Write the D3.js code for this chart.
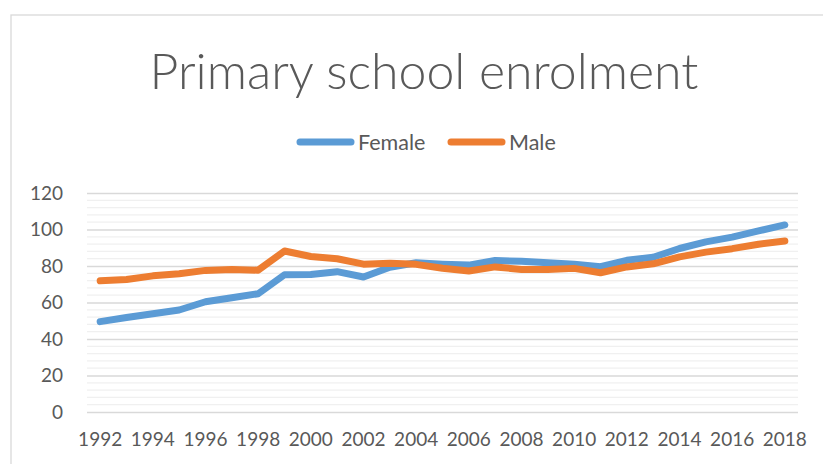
<!DOCTYPE html>
<html><head><meta charset="utf-8">
<script src="https://cdn.jsdelivr.net/npm/d3@7"></script>
<style>
html,body{margin:0;padding:0;background:#fff;}
svg{display:block;font-family:Lato,"Open Sans",sans-serif;}
</style></head>
<body>
<svg id="chart" width="823" height="464"></svg>
<script>
const years = [1992,1993,1994,1995,1996,1997,1998,1999,2000,2001,2002,2003,2004,2005,2006,2007,2008,2009,2010,2011,2012,2013,2014,2015,2016,2017,2018];
const female = [49.5,51.8,53.8,55.9,60.4,62.6,64.8,75.2,75.3,76.9,74.0,79.3,81.8,81.0,80.5,83.0,82.6,81.8,81.0,79.6,83.1,84.8,89.6,93.2,95.8,99.2,102.5];
const male = [71.9,72.6,74.6,75.8,77.6,78.1,77.7,88.2,85.2,84.0,81.0,81.5,80.9,78.8,77.3,79.5,78.1,78.1,78.7,76.3,79.5,81.2,85.0,87.6,89.5,91.9,93.7];
const yTicks = [0,20,40,60,80,100,120];
const xTickLabels = years.filter(y => y % 2 === 0);
const seriesNames = ["Female","Male"];
const colors = ["#5B9BD5","#ED7D31"];

const svg = d3.select("#chart");
const textColor = "#595959";

// chart border
svg.append("rect").attr("x",11).attr("y",15).attr("width",830).attr("height",470)
  .attr("fill","none").attr("stroke","#d9d9d9").attr("stroke-width",1.3);

const x = d3.scaleBand().domain(years).range([87,798]);
const y = d3.scaleLinear().domain([0,120]).range([412,193]);
const cx = d => x(d) + x.bandwidth()/2;

// minor gridlines
const minor = d3.range(0,121,4).filter(v => v % 20 !== 0);
svg.append("g").selectAll("line").data(minor).join("line")
  .attr("x1",87).attr("x2",798).attr("y1",d=>y(d)).attr("y2",d=>y(d))
  .attr("stroke","#f0f0f0").attr("stroke-width",1.2);

// major gridlines via axis
const yAxis = d3.axisLeft(y).tickValues(yTicks).tickSize(-(798-87)).tickPadding(24);
const gy = svg.append("g").attr("transform","translate(87,0)").call(yAxis);
gy.select(".domain").remove();
gy.selectAll(".tick line").attr("stroke","#d9d9d9").attr("stroke-width",1.3);
gy.selectAll(".tick text").attr("fill",textColor).style("font-size","19px").style("font-family","Lato");

// x axis labels
const xAxis = d3.axisBottom(x).tickValues(xTickLabels).tickSize(0).tickPadding(21);
const gx = svg.append("g").attr("transform","translate(0,412)").call(xAxis);
gx.select(".domain").remove();
gx.selectAll(".tick text").attr("fill",textColor).style("font-size","19px").style("font-family","Lato");

// lines
const line = d3.line().x((d,i)=>cx(years[i])).y(d=>y(d));
[female,male].forEach((s,k)=>{
  svg.append("path").datum(s).attr("d",line).attr("fill","none")
    .attr("stroke",colors[k]).attr("stroke-width",7)
    .attr("stroke-linecap","round").attr("stroke-linejoin","round");
});

// title
svg.append("text").attr("x",424).attr("y",89).attr("text-anchor","middle")
  .attr("fill",textColor).style("font-size","50px").style("font-weight","300")
  .text("Primary school enrolment");

// legend
const legendX = [300,451];
seriesNames.forEach((n,k)=>{
  const lx = legendX[k];
  svg.append("line").attr("x1",lx).attr("x2",lx+51).attr("y1",142).attr("y2",142)
    .attr("stroke",colors[k]).attr("stroke-width",7).attr("stroke-linecap","round");
  svg.append("text").attr("x",lx+58).attr("y",149.5).attr("fill",textColor)
    .style("font-size","21.5px").text(n);
});
</script>
</body></html>
